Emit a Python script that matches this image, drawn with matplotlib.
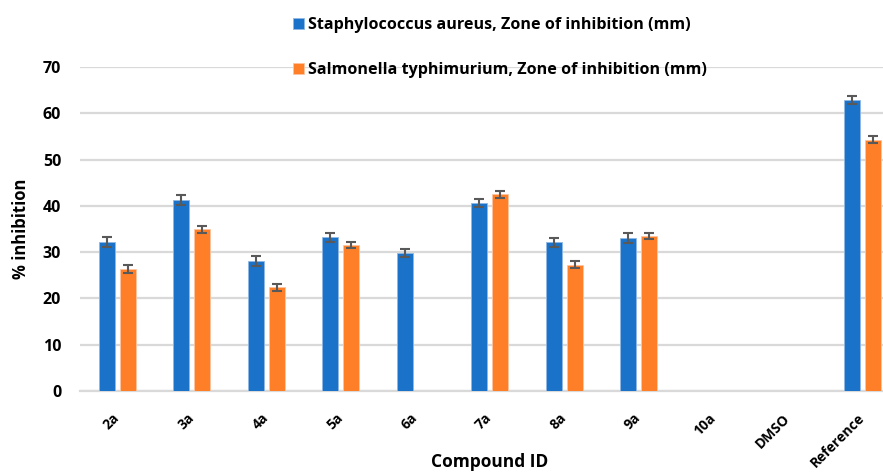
import numpy as np
import matplotlib.pyplot as plt

compounds = ['2a', '3a', '4a', '5a', '6a', '7a', '8a', '9a', '10a', 'DMSO', 'Reference']
staph = [32.2, 41.3, 28.1, 33.2, 29.8, 40.6, 32.1, 33.1, np.nan, np.nan, 62.9]
staph_err = [1.0, 1.1, 1.0, 1.0, 0.9, 0.9, 1.0, 1.1, np.nan, np.nan, 0.9]
salm = [26.4, 34.9, 22.4, 31.6, np.nan, 42.5, 27.3, 33.5, np.nan, np.nan, 54.3]
salm_err = [0.8, 0.7, 0.7, 0.7, np.nan, 0.7, 0.8, 0.7, np.nan, np.nan, 0.7]

plt.rcParams['font.family'] = ['Open Sans', 'DejaVu Sans']
plt.rcParams['font.weight'] = 'bold'

blue = '#1a73c9'
orange = '#fe7f27'

fig = plt.figure(figsize=(8.83, 4.72), dpi=100)
ax = fig.add_axes([0.0906, 0.1716, 0.928, 0.6864])

x = np.arange(len(compounds))
w = 0.215
off = 0.14
ekw = {'elinewidth': 1.5, 'capthick': 1.5}
ax.bar(x - off, staph, w, color=blue, edgecolor='#8fb8e3', linewidth=0.6,
       yerr=staph_err, ecolor='#595959', capsize=3.6, error_kw=ekw,
       label='Staphylococcus aureus, Zone of inhibition (mm)', zorder=3)
ax.bar(x + off, salm, w, color=orange, edgecolor='#ffc59e', linewidth=0.6,
       yerr=salm_err, ecolor='#595959', capsize=3.6, error_kw=ekw,
       label='Salmonella typhimurium, Zone of inhibition (mm)', zorder=3)

ax.set_xlim(-0.5, len(compounds) - 0.5)
ax.set_ylim(0, 70)
ax.set_yticks(range(0, 71, 10))
ax.yaxis.grid(True, color='#d9d9d9', linewidth=1.6, zorder=0)
ax.set_axisbelow(True)
for s in ['top', 'right', 'left']:
    ax.spines[s].set_visible(False)
ax.spines['bottom'].set_color('#d9d9d9')
ax.spines['bottom'].set_linewidth(1.6)
ax.tick_params(axis='both', length=0)
ax.tick_params(axis='y', pad=13.5, labelsize=11.5)
ax.set_xticks(x)
ax.set_xticklabels(compounds, rotation=45, ha='right', va='center', rotation_mode='anchor',
                   fontsize=10, fontweight='bold')
ax.tick_params(axis='x', pad=18)
for lbl in ax.get_yticklabels():
    lbl.set_fontweight('bold')

ax.set_xlabel('Compound ID', fontsize=12.5, fontweight='bold', va='center')
ax.xaxis.set_label_coords(0.5, -0.219)
ax.set_ylabel('% inhibition', fontsize=12, fontweight='bold', va='center')
ax.yaxis.set_label_coords(-0.0714, 0.5)

fig.legend(loc='upper left', bbox_to_anchor=(0.315, 0.994), frameon=False,
           fontsize=11.6, handlelength=0.7, handleheight=0.7, handletextpad=0.25,
           labelspacing=1.8)

fig.savefig('out.png', dpi=100)
